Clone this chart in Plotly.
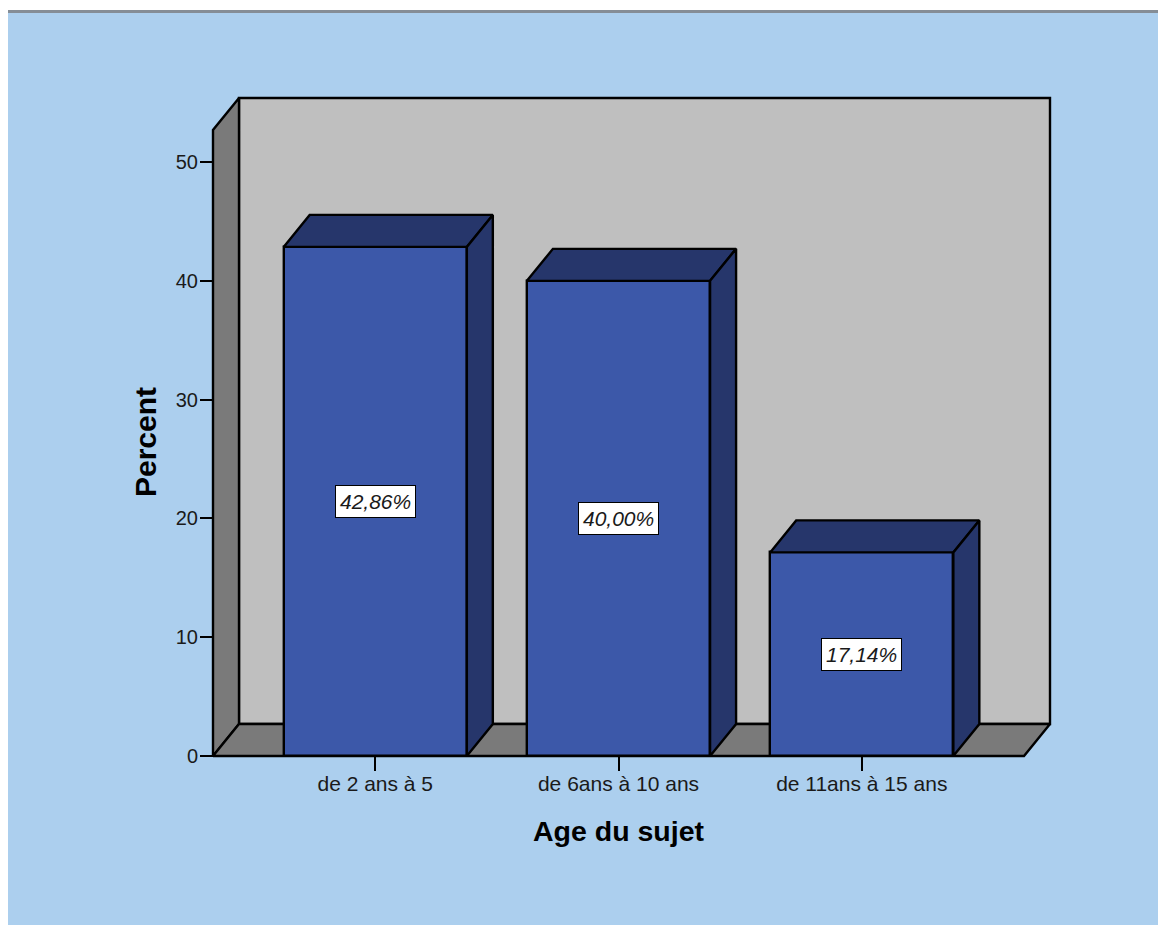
import plotly.graph_objects as go

categories = ["de 2 ans à 5", "de 6ans à 10 ans", "de 11ans à 15 ans"]
percent = [42.86, 40.00, 17.14]
labels = ["42,86%", "40,00%", "17,14%"]
y_ticks = [0, 10, 20, 30, 40, 50]

W, H = 1158, 925
# Pixel box of the front plane of the chart frame and its data range
L, R, T, B = 213, 1024, 130, 756
XMIN, XMAX = -0.667, 2.667
YMIN, YMAX = 0, 52.7
SX = (R - L) / (XMAX - XMIN)
SY = (B - T) / (YMAX - YMIN)
DX = 26 / SX
DY = 32 / SY
BW = 0.753

# Plot area is larger than the frame so the depth faces are not clipped
PAD = 8
P_L, P_R, P_T, P_B = L - PAD, R + 26 + PAD, T - 33 - PAD, B + PAD
X_RANGE = [XMIN - PAD / SX, XMAX + (26 + PAD) / SX]
Y_RANGE = [YMIN - PAD / SY, YMAX + (33 + PAD) / SY]

BG = "#ACCFEE"
WALL = "#BFBFBF"
SIDE = "#7A7A7A"
FRONT = "#3C58A9"
DARK = "#26366B"
INK = "#000000"
TXT = "#1A1A1A"
LW = 2.4


def poly(xs, ys, color, xa="x", ya="y"):
    return go.Scatter(
        x=xs + xs[:1], y=ys + ys[:1], mode="lines", fill="toself", fillcolor=color,
        line=dict(color=INK, width=LW), hoverinfo="skip",
        showlegend=False, xaxis=xa, yaxis=ya,
    )


fig = go.Figure()
# Chart frame, behind the bars
fig.add_trace(poly([XMIN + DX, XMAX + DX, XMAX + DX, XMIN + DX],
                   [DY, DY, YMAX + DY, YMAX + DY], WALL))
fig.add_trace(poly([XMIN, XMIN + DX, XMIN + DX, XMIN],
                   [0, DY, YMAX + DY, YMAX], SIDE))
fig.add_trace(poly([XMIN, XMAX, XMAX + DX, XMIN + DX],
                   [0, 0, DY, DY], SIDE))

# Bars on an overlaid subplot so that they sit over the frame
fig.add_trace(go.Bar(
    x=[0, 1, 2], y=percent, width=BW, marker=dict(color=FRONT, line=dict(color=INK, width=LW)),
    showlegend=False, xaxis="x2", yaxis="y2",
))
for i, v in enumerate(percent):
    a, b = i - BW / 2, i + BW / 2
    fig.add_trace(poly([a, b, b + DX, a + DX], [v, v, v + DY, v + DY], DARK, "x2", "y2"))
    fig.add_trace(poly([b, b + DX, b + DX, b], [0, DY, v + DY, v], DARK, "x2", "y2"))

annotations = [
    dict(x=i, y=v / 2, xref="x2", yref="y2", text=f"<i>{t}</i>", showarrow=False,
         bgcolor="white", bordercolor=INK, borderwidth=1, borderpad=4,
         font=dict(family="Liberation Sans", size=21, color=TXT))
    for i, (v, t) in enumerate(zip(percent, labels))
]
annotations += [
    dict(x=1, y=0, xref="x", yref="y", yshift=-75, text="<b>Age du sujet</b>", showarrow=False,
         font=dict(family="Liberation Sans", size=28.5, color=INK)),
    dict(x=XMIN, y=(YMIN + YMAX) / 2, xref="x", yref="y", xshift=-68, yshift=1, text="<b>Percent</b>",
         textangle=-90, showarrow=False, font=dict(family="Liberation Sans", size=30, color=INK)),
]

PW, PH = P_R - P_L, P_B - P_T
fig.update_layout(
    width=W, height=H, autosize=False, bargap=0, barmode="overlay",
    margin=dict(l=P_L, r=W - P_R, t=P_T, b=H - P_B, pad=0),
    paper_bgcolor="white", plot_bgcolor="rgba(0,0,0,0)",
    font=dict(family="Liberation Sans", color=TXT),
    annotations=annotations,
    shapes=[
        dict(type="rect", layer="below", xref="paper", yref="paper", line_width=0, fillcolor=BG,
             x0=(8 - P_L) / PW, x1=(W - P_L) / PW,
             y0=(P_B - H) / PH, y1=(P_B - 13) / PH),
        dict(type="rect", layer="below", xref="paper", yref="paper", line_width=0, fillcolor="#858D96",
             x0=(8 - P_L) / PW, x1=(W - P_L) / PW,
             y0=(P_B - 13) / PH, y1=(P_B - 10) / PH),
    ],
    xaxis=dict(
        range=X_RANGE, tickmode="array", tickvals=[0, 1, 2], ticktext=categories,
        anchor="free", position=PAD / PH,
        ticks="outside", ticklen=14, tickwidth=2, tickcolor=INK, showline=False, ticklabelstandoff=-5,
        showgrid=False, zeroline=False, tickfont=dict(size=21, color=TXT),
    ),
    yaxis=dict(
        range=Y_RANGE, tickmode="array", tickvals=y_ticks,
        anchor="free", position=PAD / PW,
        ticks="outside", ticklen=13, tickwidth=2, tickcolor=INK, showline=False, ticklabelstandoff=-2,
        showgrid=False, zeroline=False, tickfont=dict(size=20, color=TXT),
    ),
    xaxis2=dict(range=X_RANGE, overlaying="x", visible=False),
    yaxis2=dict(range=Y_RANGE, overlaying="y", visible=False),
)

fig.write_html("out.html", config=dict(displayModeBar=False),
               post_script="document.body.style.margin='0';")
